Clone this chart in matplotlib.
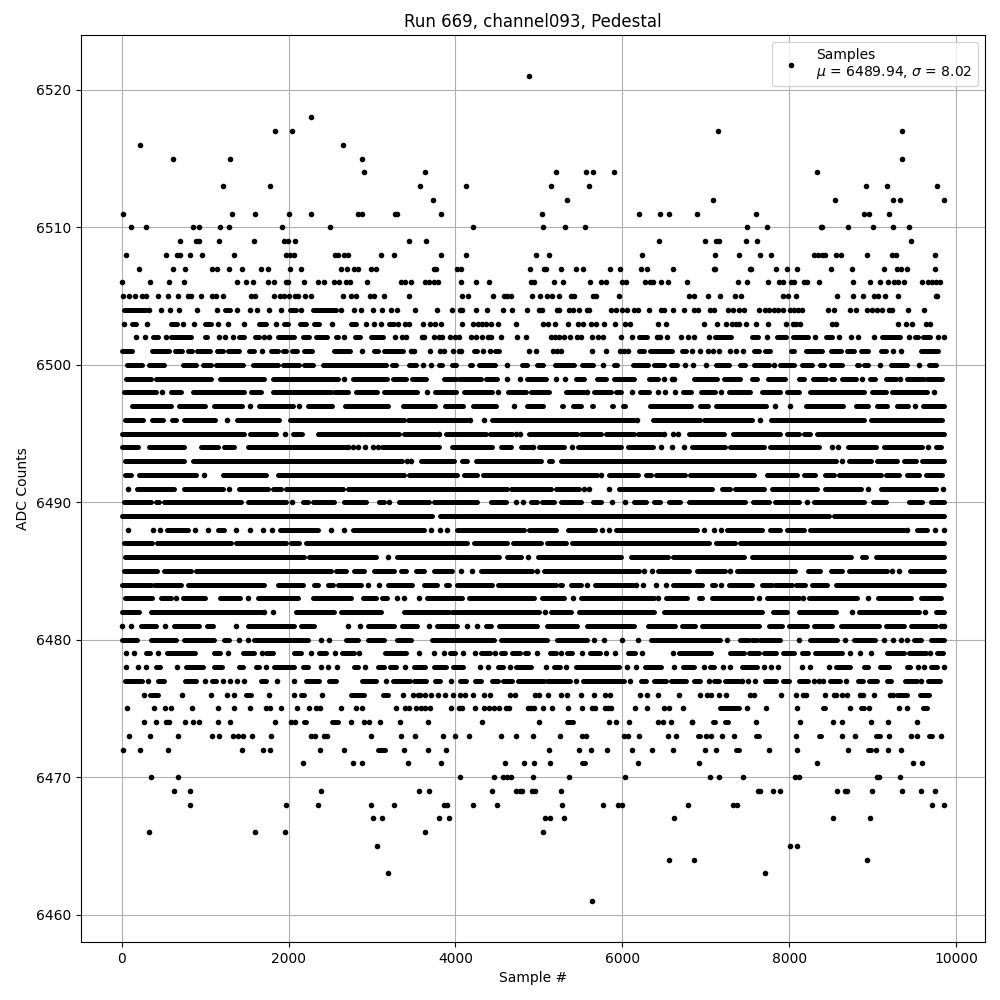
import matplotlib
matplotlib.use("Agg")
import matplotlib.pyplot as plt

# sample numbers, one list per ADC level
# a plain number is one visible dot, a (start, end) pair is a stretch where
# the dots merge into a solid band and can't be told apart
y6521 = [4881]
y6518 = [2273]
y6517 = [1841, 2045, 7142, 9350]
y6516 = [221, 2657]
y6515 = [617, 1301, 2885, 9350]
y6514 = [2909, 3633, 5205, 5565, 5649, 5901, 8330]
y6513 = [1217, 1781, 3573, 4125, 5145, 5601, 8918, 9170, 9770]
y6512 = [3729, 5337, 7082, 8546, 9242, 9326, 9854]
y6511 = [17, 1325, 1601, 2009, 2273, 2837, 2885, 3270, 3300, 3825, 5037, 6201, 6453, 6561, 6890, 7598, 8894, 8954, 9194]
y6510 = [113, 293, 857, 929, 1181, 1289, 1925, 2501, 4209, 5049, 5313, 5553, 7490, 7730, 8378, 8394, 8702, 9002, 9242, 9434]
y6509 = [701, 893, 929, 1169, 1589, 1949, 1989, 2081, 3441, 3645, 6441, 6986, 7118, 7158, 7478, 7610, 9458]
y6508 = [53, 533, 669, 701, 821, 965, 1349, 1973, 2021, 2069, 2561, 2597, 2669, 2717, 3113, 3269, 3825, 4125, 4965, 5121, 6237,
         7106, 7394, 7646, 7778, 8294, 8342, 8390, 8426, 8558, 8618, 8930, 9230, 9278, 9746]
y6507 = [209, 617, 761, 1085, 1145, 1289, 1445, 1673, 1757, 2021, 2153, 2633, 2705, 2789, 2837, 2993, 3053, 3749, 3773, 4017, 4065,
         4893, 5061, 5085, 5265, 5445, 5529, 5853, 5973, 6225, 6297, 6609, 7094, 7106, 7526, 7538, 7838, 7970, 8090, 8498, 8750, 9134,
         9290, 9338, 9410, 9746]
y6506 = [5, 341, 569, 749, 1385, 1493, 1577, 1757, 1829, 1973, 1997, 2189, 2357, 2429, 2549, 2609, 2693, 2741, 2945, 3353, 3397, 3465,
         3633, 3681, 3741, 3785, 4065, 4245, 4401, 4905, 4941, 5181, 5289, 5613, 5745, 5805, 5997, 6045, 6273, 6333, 6369, 6465, 6549,
         6777, 7382, 7490, 7742, 7874, 7922, 8018, 8054, 8174, 8210, 8354, 8762, 8966, 9086, 9182, 9254, 9302, 9374, 9590, 9662, 9710,
         9758, 9806]
y6505 = [17, 89, 161, 245, 293, 437, 557, 677, 797, 833, 953, 1085, 1133, 1217, 1553, 1601, 1829, 1901, 1949, 2009, 2081, 2117, 2201,
         2273, 2657, 2753, 2813, 2981, 3029, 3149, 3441, 4077, 4149, 4449, 4581, 4621, 4665, 4917, 5013, 5097, 5157, 5241, 5385, 5421,
         5649, 5685, 5961, 6801, 6861, 7022, 7166, 7346, 7418, 7922, 7982, 8078, 8570, 8762, 8882, 9014, 9062, 9146, 9302, 9758, 9774]
y6504 = [(29, 289), 329, 469, 581, 689, 905, 1141, (1241, 1297), 1381, 1541, 1625, 1769, 1913, (2021, 2089), 2149, (2297, 2569), 2633,
         2789, 2873, 3017, 3125, 3233, 3305, 3513, 3777, 3957, 4053, 4077, 4245, 4377, 4569, 4677, 4857, 5001, 5037, 5217, 5241, 5361,
         5409, 5481, 5577, 5601, 5865, 5925, 5997, 6057, 6141, 6189, 6321, 6465, 6501, 6609, 6741, 6854, 6902, 7054, 7094, 7262, 7322,
         7394, 7454, 7634, 7706, 7754, 7814, 7862, 7922, 8006, 8054, 8102, 8150, 8462, 8534, 8726, 8798, 8930, 8990, 9050, 9110, 9194,
         9230, 9422, 9614]
y6503 = [29, (125, 173), 305, (597, 669), 737, 869, (1001, 1073), 1157, 1277, 1469, (1649, 1733), 1853, (1949, 1997), (2141, 2213),
         (2309, 2369), 2521, (2753, 2813), 2933, 3029, 3113, (3209, 3269), 3317, 3397, 3441, 3609, 3693, 3753, 3825, 4077, 4209, 4269,
         4317, 4365, 4425, 4509, 4725, 5049, 5109, 5193, 5349, 5469, 5529, 5625, 5685, 5781, 5913, 6033, 6093, 6429, 6525, 6974, 7130,
         7238, 7310, 7358, 7394, 7478, 7598, 7742, 7958, 8042, 8078, 8126, 8510, 8558, 9302, 9398, 9470, 9638, 9686]
y6502 = [173, 281, (377, 437), 533, (597, 833), (1001, 1025), 1169, 1241, 1337, (1409, 1469), (1601, 1649), 1709, 1769, (1877, 2069),
         (2177, 2249), (2333, 2465), (2573, 2597), 2669, (2801, 2861), (2993, 3137), 3281, 3361, 3409, 3597, 3629, 3741, 3801, 3837, 3933,
         3993, 4041, 4185, 4245, 4317, 4389, 4425, 4545, 4737, 4845, 5145, 5193, 5241, 5301, 5373, 5457, 5505, 5637, 5709, 5769, 5985,
         6117, (6201, 6297), 6417, 6453, 6537, 6705, 6789, 6861, 7034, (7106, 7302), (7550, 7622), 7730, (7850, 7958), (8042, 8222), 8306,
         (8438, 8510), 8602, 8738, 8822, 9014, (9110, 9326), 9434, (9506, 9542), (9602, 9686), 9782, 9854]
y6501 = [(5, 125), (365, 569), (641, 725), (789, 837), (905, 1061), (1145, 1217), (1277, 1409), (1529, 1589), 1685, (1793, 1877),
         (1937, 1973), (2045, 2105), (2189, 2285), (2549, 2741), 2885, (3029, 3077), (3149, 3377), 3465, 3501, 3693, 3813, 3861, 3969,
         4041, 4065, (4221, 4257), 4329, 4413, (4473, 4521), 4881, 4965, 5169, 5217, 5265, 5637, 5805, 5973, 6021, 6069, (6201, 6261),
         (6333, 6597), (6717, 6765), 6837, 6933, 7022, 7082, 7154, 7286, 7358, 7442, (7574, 7634), (7706, 7766), (8018, 8054), (8198, 8390),
         (8498, 8618), (8690, 8774), (8858, 8942), (9098, 9158), 9242, 9338, (9578, 9782)]
y6500 = [(69, 249), (329, 509), (729, 889), (969, 1069), (1129, 1449), (1569, 1869), (1929, 2129), (2189, 2289), (2409, 3162),
         (3242, 3282), (3442, 3522), 3610, 3702, (3802, 3842), (3962, 4002), (4174, 4202), (4282, 4470), 4618, (4802, 4862), (4974, 5054),
         (5190, 5422), (5522, 5654), 5770, (5902, 5942), (6122, 6302), (6374, 6502), (6582, 6655), 6747, 6847, 7003, (7127, 7275),
         (7415, 7475), (7575, 7755), 7823, (7895, 8055), (8155, 8275), (8375, 8415), (8503, 8635), (8807, 8835), (8895, 8943), 9087,
         (9215, 9415), 9555, (9675, 9755)]
y6499 = [(49, 349), (409, 1069), (1181, 1701), (1809, 2589), 2661, (2769, 3182), (3254, 3402), (3482, 3642), (3862, 4002), (4042, 4302),
         (4362, 4494), 4622, 4770, (4862, 5082), 5202, 5314, (5442, 5542), (5702, 5802), (5902, 6142), (6322, 6430), 6494, 6622, 6595,
         (6855, 7135), (7215, 7415), (7555, 7615), (7743, 7955), (8115, 8175), (8287, 8435), (8495, 8535), (8635, 8795), 8875, (8967, 9023),
         (9155, 9275), 9327, (9415, 9615), (9655, 9835)]
y6498 = [(29, 409), 489, (597, 709), (849, 1469), (1549, 1669), (1809, 2509), (2549, 2709), (2809, 3062), (3142, 3542), 3662, (3750, 4002),
         (4102, 4442), 4510, (4630, 4842), (4902, 5122), (5322, 5542), 5582, (5662, 5862), (5922, 5982), 6110, (6214, 6322), 6422, 6510,
         6630, (6727, 6823), (6943, 7115), 7183, (7275, 7535), (7675, 7895), (7975, 8115), (8255, 8895), (8995, 9155), (9235, 9655), 9735]
y6497 = [(121, 589), (693, 997), (1109, 1437), 1537, (1641, 2057), 2129, (2229, 2517), (2681, 3190), (3374, 3750), (3874, 4090),
         (4214, 4490), 4702, (4854, 5050), (5274, 5290), (5414, 5510), (5634, 5650), (5874, 5890), (6014, 6030), (6334, 6823), (6927, 7023),
         (7127, 7723), 7835, 8007, (8207, 8643), (8799, 8943), (9055, 9175), (9287, 9423), 9507, (9599, 9850)]
y6496 = [(41, 257), (369, 497), (601, 657), (741, 1117), 1261, (1381, 1889), (2021, 3382), (3434, 4142), 4170, 4342, (4442, 6142), 6174,
         (6362, 6935), (6975, 7555), 7647, (7787, 8895), (8975, 9835)]
y6495 = [(9, 1469), (1533, 1849), 1961, (2049, 2161), (2349, 2877), (2905, 3322), (3382, 3762), 3802, (3882, 4362), (4414, 4682), 4722, 4770,
         (4882, 5462), (5502, 5742), (5802, 6142), (6182, 6462), 6502, 6602, 6670, (6795, 7215), (7323, 7895), (7975, 8115), (8175, 8255),
         (8335, 9850)]
y6494 = [(9, 201), (329, 749), (949, 1149), (1229, 1349), (1509, 2689), 2717, 2769, 2829, 2917, 3009, 3077, (3122, 3802), (3962, 4442),
         (4550, 4662), (4790, 4902), 4930, (5002, 5302), 5394, (5470, 5982), (6070, 6362), 6462, 6590, 6735, (6835, 7235), (7295, 7695),
         (7775, 8355), 8515, 8587, (8703, 9035), (9135, 9595), 9667, (9755, 9823)]
y6493 = [(41, 749), (849, 3362), 3414, 3462, (3590, 3982), (4082, 4142), (4242, 5022), (5122, 5162), (5270, 8555), 8635, (8715, 8975),
         (9055, 9295), (9375, 9515), (9595, 9850)]
y6492 = [(41, 109), (209, 889), 989, (1209, 1729), (1869, 3382), (3442, 4022), (4102, 4262), (4334, 5702), 5742, (5842, 6182), (6282, 6342),
         (6402, 6755), (6815, 7575), (7735, 8095), (8175, 8315), (8427, 8535), (8595, 9095), (9155, 9315), (9415, 9555), (9635, 9835)]
y6491 = [77, (189, 629), (749, 1209), 1289, (1401, 1749), (1809, 1909), (1969, 2649), (2709, 4622), (4662, 5142), (5202, 5482), 5542, 5602,
         5842, (5962, 7075), (7195, 7295), (7355, 7695), (7795, 8335), (8427, 8855), 8943, (9103, 9755), 9843]
y6490 = [(29, 349), (409, 449), (509, 1429), (1509, 1969), 2041, (2169, 2229), (2289, 2549), (2669, 2929), (3082, 3142), 3202, (3322, 3682),
         (3742, 4262), (4422, 4602), 4722, 4814, (4902, 4982), (5042, 5182), (5262, 5510), (5654, 5742), 5882, 6034, (6142, 6282), (6382, 6454),
         (6562, 6695), (6795, 7475), (7563, 7755), (7835, 8115), 8215, (8295, 8895), (9007, 9155), (9435, 9595), (9695, 9850)]
y6489 = [(9, 3722), (3814, 8475), (8535, 9850)]
y6488 = [81, 377, 461, (541, 789), 877, 1029, (1157, 1229), 1373, 1541, 1689, 1797, (1901, 2349), 2509, 2669, (2769, 3622), 3702, 3814, 3902,
         (4014, 4822), (4882, 5202), (5350, 5670), 5762, 5842, (5922, 6895), 6975, 7095, 7183, (7255, 7675), (7775, 7895), (7975, 8175),
         (8255, 9375), 9415, (9535, 9655), 9747, 9850]
y6487 = [(29, 369), (429, 1309), (1369, 1969), (2029, 2129), (2209, 4142), (4222, 4622), (4694, 5022), (5094, 5322), (5402, 7035), (7123, 7355),
         (7415, 9850)]
y6486 = [(41, 2189), (2249, 3049), 3190, (3302, 4522), (4622, 4782), 4870, (4990, 5982), (6102, 6542), (6602, 7455), (7555, 8735), (8875, 8915),
         (9035, 9850)]
y6485 = [(29, 429), (509, 829), (889, 2509), (2569, 2689), (2789, 2909), (3029, 3262), (3342, 3402), (3522, 3622), (3742, 3962), 4062, 4194,
         (4302, 4922), 4974, (5062, 6202), 6254, 6350, (6422, 6795), (6895, 7235), 7287, (7375, 8075), (8223, 8375), (8495, 8635), (8715, 9175),
         9235, 9315, (9447, 9850)]
y6484 = [(9, 349), (389, 709), (789, 1709), (1869, 2169), (2309, 2357), (2469, 2529), (2589, 2869), 2957, 3082, (3190, 3482), (3622, 3782),
         (3882, 3922), (4014, 4442), (4510, 5202), (5254, 5282), (5382, 5502), 5574, (5670, 6122), 6162, 6242, 6402, 6522, (6602, 6955),
         (7075, 7115), 7183, (7275, 7555), (7675, 7795), (7835, 8035), (8087, 8195), (8275, 8455), (8555, 9850)]
y6483 = [(41, 369), (469, 589), 657, (729, 997), (1181, 1421), 1517, (1629, 2109), (2289, 2749), (2889, 3042), (3122, 3182), 3294, 3382, 3562,
         (3662, 4082), (4162, 4942), (5042, 5302), 5414, (5502, 6382), 6422, (6522, 6775), (6915, 6955), (7075, 7555), 7635, (7735, 8115),
         8163, (8235, 8815), 8943, (9063, 9455), (9575, 9815)]
y6482 = [(9, 209), (349, 1689), 1709, 1817, (2089, 2549), (2629, 3109), (3382, 3922), (3962, 5002), 5070, (5142, 5382), (5482, 6382), (6502, 7675),
         (7807, 7975), (8115, 8555), 8755, (8835, 9555), 9627, (9755, 9850)]
y6481 = [5, 117, (229, 409), 521, (629, 929), (1021, 1089), 1369, (1509, 2069), (2149, 2309), 2717, 2861, (2949, 3262), (3362, 3542), 3682,
         (3782, 4022), 4142, 4254, (4362, 4422), (4522, 4982), (5102, 5462), (5582, 6142), (6302, 6635), (6715, 6875), (6955, 7635), (7755, 7915),
         (7995, 8215), (8295, 8515), (8615, 9075), (9155, 9375), (9455, 9755), 9815, 9850]
y6480 = [(9, 189), (349, 649), (749, 1109), (1229, 1289), 1409, 1509, (1589, 2229), 2389, 2489, (2689, 2829), (2949, 3142), (3302, 3462),
         (3722, 4462), (4542, 5102), (5222, 5582), 5662, 5782, 6002, 6182, (6342, 7174), 7254, (7414, 7514), (7554, 7614), (7654, 7894), 8114,
         (8246, 8574), 8666, (8774, 9034), 9134, 9242, 9334, 9414, (9494, 9574), (9694, 9850)]
y6479 = [53, 149, (289, 341), 437, (545, 881), (1109, 1181), 1277, (1457, 1589), 1685, (1729, 1817), (2069, 2153), 2273, (2369, 2449), 2561, (2645, 2789),
         2849, (3161, 3413), 3561, 3741, 3861, (3933, 3993), 4089, 4233, (4301, 4413), 4473, (4541, 4589), (4681, 4773), (4829, 4869), 4977,
         (5133, 5205), 5265, (5341, 5397), 5517, (5613, 5733), 5805, 5913, (6069, 6149), 6237, 6609, (6681, 7062), (7294, 7454), (7514, 7634),
         (7702, 7846), (7926, 8054), (8154, 8222), (8314, 8634), 8726, 8846, 8986, (9166, 9374), (9434, 9634), 9686, (9766, 9846)]
y6478 = [53, 197, 293, (413, 461), 665, (773, 977), (1109, 1201), (1409, 1457), (1613, 1649), 1733, (1829, 2069), (2177, 2237), 2393, 2477, 2585,
         (2789, 2837), 2921, (3077, 3149), (3221, 3293), 3393, (3501, 3641), (3741, 3881), (3969, 4089), 4293, 4389, (4509, 4569), 4653, (4721, 4909),
         5085, (5181, 5253), 5325, (5445, 5961), 6061, 6165, (6273, 6461), 6621, (6733, 6854), 6974, (7054, 7102), 7202, 7286, (7430, 7614), 7694,
         7778, 7862, 8150, 8246, 8474, (8558, 8726), (8894, 8942), (9086, 9194), (9414, 9446), 9542, 9614, (9702, 9766), 9854]
y6477 = [(41, 249), 317, (437, 509), (761, 889), 1001, (1081, 1129), 1217, 1301, 1385, 1469, (1673, 1733), 1865, 2069, (2213, 2369), (2489, 2569),
         (2885, 3049), 3173, (3257, 3461), (3509, 3653), (3753, 3813), 3945, (4053, 4125), (4233, 4305), (4437, 4509), (4569, 4677), (4749, 5061),
         (5101, 5373), 5445, (5529, 6021), 6093, (6225, 6285), (6381, 6525), (6585, 6765), (6861, 6934), 7034, (7102, 7154), (7234, 7394), 7434, 7502,
         7586, (7706, 7846), (7926, 7994), (8114, 8222), 8294, 8354, 8402, (8486, 8606), 8678, (8822, 8882), (8954, 9054), (9174, 9214), (9386, 9534),
         9574, (9662, 9806)]
y6476 = [269, (341, 437), 725, 1073, 1265, 1349, (1493, 1553), 1761, 2069, (2149, 2189), 2405, (2753, 2909), (3137, 3197), 3369, 3489, 3549, 3581, 3633,
         3705, 3789, 3873, 3969, 4053, 4113, 4209, 4341, 4413, 4653, 4713, 4953, 5001, 5109, 5265, 5337, 5505, 5661, 5793, 5853, 6213, 6297, 6429, 6681,
         6933, 7014, 7062, 7154, 7246, 7526, 7574, 7898, 8078, 8162, 8198, 8426, 8534, 8566, 8630, 8694, 8846, 8882, 9014, 9206, 9246, (9294, 9414),
         (9566, 9674)]
y6475 = [65, 389, 521, 593, 845, 1157, 1349, 1541, 1733, 1781, 1913, 2105, 2249, 2333, 2381, 2633, 2813, 2885, 3293, 3393, 3441, 3529, 3589, 3641, 3693, 3945,
         4041, 4077, 4233, 4341, 4401, 4461, 4521, 4605, 4641, 4869, 4901, 4941, 5049, 5157, 5349, 5517, 5637, 5673, 5793, 5829, 5865, 6153, 6297, 6501,
         6561, 6729, (7166, 7394), 7490, 7718, 8090, (8402, 8426), 8726, (8858, 8894), 8958, 9314, 9410, (9602, 9646)]
y6474 = [269, 413, 533, 569, 761, 857, 929, 1157, 1301, 1841, 2033, 2081, (2189, 2213), (2525, 2597), 2753, 2901, 2969, 3101, 3341, 3669, 4317, 5001, (5337, 5409),
         5841, 5925, 6081, 6429, 6489, 6585, 6834, 6837, (7082, 7106), (7226, 7266), 7598, 8126, 8522, 8630, 8978, 9182, 9530]
y6473 = [89, 341, 677, 1085, 1169, 1329, 1397, 1449, 1565, 1793, 2273, 2321, 2429, 2465, 2993, 3353, 3513, 3849, 3993, 4161, 4545, 4725, 4929, 5253, 5517, 5565,
         6021, 6069, 6201, 6549, 6645, (6902, 6934), 6998, 7058, 7190, 7334, (7598, 7634), 8078, (8354, 8378), 8630, 8786, (9038, 9086), 9194, 9458, 9530,
         (9674, 9710), 9818]
y6472 = [17, 221, 557, 1445, 1697, 1781, 2381, 2669, (3077, 3161), 3389, 3669, 3885, 5121, 5481, 5625, 5817, 6117, 6357, 6609, 6986, 7118, (7358, 7394), 7754, 8090,
         8702, (8942, 8978), 9038, 9182, 9338]
y6471 = [2177, 2777, 2885, 3437, 3825, 4593, 4821, 4941, 5133, (5517, 5553), 6189, 6921, 8330, 9482, 9590]
y6470 = [353, 677, 4053, 4461, 4569, 4617, 4665, 4929, 5361, 6033, 7046, 7154, 7442, 8066, 8114, 9050, 9074, 9326]
y6469 = [629, 821, 2393, 3561, 3681, 4437, 4725, 4773, 4797, 4917, 4953, 5265, 7622, 7646, 7802, 7886, 8570, 8666, 8690, 8990, 9350, 9578, 9746]
y6468 = [821, 1973, 2357, 2993, 3269, 3861, 3893, 4209, 4497, 5277, 5769, 5949, 5997, 6789, 7322, 7370, 9710, 9854]
y6467 = [3017, 3125, 3801, 3921, 5073, 5133, 5301, 6621, 8522, 8966]
y6466 = [329, 1601, 1961, 3633, 5049]
y6465 = [3065, 8006, 8090]
y6464 = [6561, 6861, 8930]
y6463 = [3197, 7706]
y6461 = [5637]

levels = [
    (6521, y6521), (6518, y6518), (6517, y6517), (6516, y6516), (6515, y6515), (6514, y6514), (6513, y6513), (6512, y6512),
    (6511, y6511), (6510, y6510), (6509, y6509), (6508, y6508), (6507, y6507), (6506, y6506), (6505, y6505), (6504, y6504),
    (6503, y6503), (6502, y6502), (6501, y6501), (6500, y6500), (6499, y6499), (6498, y6498), (6497, y6497), (6496, y6496),
    (6495, y6495), (6494, y6494), (6493, y6493), (6492, y6492), (6491, y6491), (6490, y6490), (6489, y6489), (6488, y6488),
    (6487, y6487), (6486, y6486), (6485, y6485), (6484, y6484), (6483, y6483), (6482, y6482), (6481, y6481), (6480, y6480),
    (6479, y6479), (6478, y6478), (6477, y6477), (6476, y6476), (6475, y6475), (6474, y6474), (6473, y6473), (6472, y6472),
    (6471, y6471), (6470, y6470), (6469, y6469), (6468, y6468), (6467, y6467), (6466, y6466), (6465, y6465), (6464, y6464),
    (6463, y6463), (6461, y6461),
]

dot_x = []
dot_y = []
run_y = []
run_start = []
run_end = []
for level, marks in levels:
    for m in marks:
        if isinstance(m, tuple):
            run_y.append(level)
            run_start.append(m[0])
            run_end.append(m[1])
        else:
            dot_x.append(m)
            dot_y.append(level)

fig, ax = plt.subplots(figsize=(10, 10))
ax.plot(dot_x, dot_y, "k.", label="Samples\n$\\mu$ = 6489.94, $\\sigma$ = 8.02")
# a bit thinner than the '.' marker so the bands don't look heavier than the dots
ax.hlines(run_y, run_start, run_end, colors="k", linewidth=3.6, capstyle="round", zorder=2)
ax.set_title("Run 669, channel093, Pedestal")
ax.set_xlabel("Sample #")
ax.set_ylabel("ADC Counts")
ax.grid(True)
ax.legend(loc="upper right")
fig.subplots_adjust(left=0.081, right=0.985, top=0.965, bottom=0.058)
fig.savefig("out.png", dpi=100)
